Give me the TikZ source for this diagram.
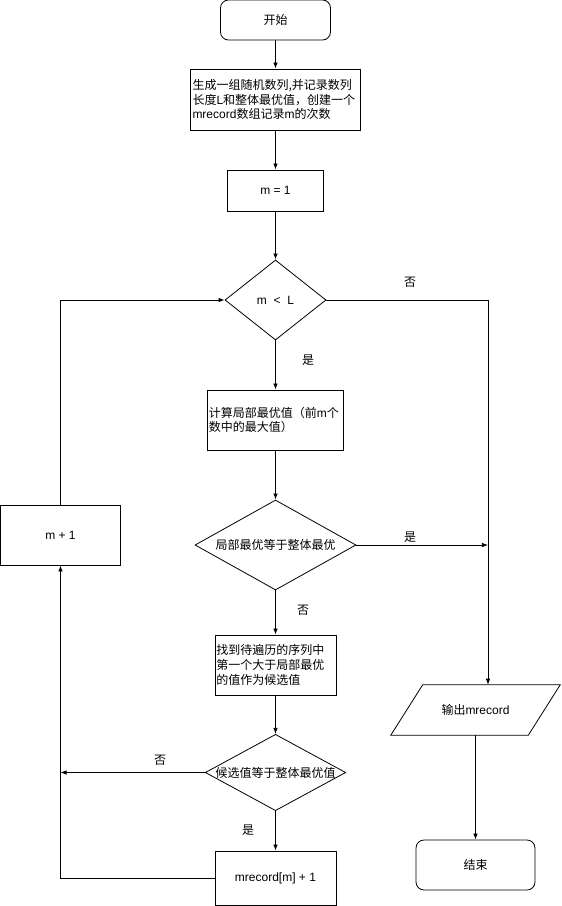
\documentclass[tikz,border=0pt]{standalone}
\usepackage{fontspec}
\setmainfont{Liberation Sans}
\newfontfamily\cjk{Noto Sans CJK SC}
\usetikzlibrary{positioning, shapes.geometric, arrows.meta}
\newcommand{\lat}[1]{{\rmfamily #1}}
\tikzset{
	every node/.style={font=\cjk\fontsize{9}{11}\selectfont, align=center},
	terminal/.style={
		rectangle,
		rounded corners=6pt,
		draw, semithick
	},
	process/.style={
		rectangle,
		draw, semithick
	},
	decision/.style={
		diamond,
		draw, semithick,
		inner sep=0pt
	},
	io/.style={
		rectangle,
		inner sep=0pt
	},
	flow/.style={semithick, -{Latex[length=1.6mm]}},
}

\begin{document}
\begin{tikzpicture}[x=0.75pt, y=-0.75pt]
		\useasboundingbox (0,0) rectangle (561,906);

		\node (start) [terminal, minimum width=82.5pt, minimum height=30pt] at (275.5,20) {开始};
		\node (gen) [process, align=left, text width=124.5pt, inner sep=1.5pt, minimum height=45.75pt] at (275.5,99.5)
			{生成一组随机数列,并记录数列\\长度\lat{L}和整体最优值，创建一个\\\lat{mrecord}数组记录\lat{m}的次数};
		\node (m1) [process, minimum width=72pt, minimum height=30.75pt] at (275.5,190.5) {\lat{m = 1}};
		\node (d1) [decision, aspect=1.26, minimum width=75.75pt, minimum height=60pt] at (275.5,300) {\lat{m \ < \ L}};
		\node (calc) [process, align=left, text width=100pt, inner sep=1pt, minimum height=45pt] at (275.5,420)
			{计算局部最优值（前\lat{m}个\\数中的最大值）};
		\node (d2) [decision, aspect=1.79, minimum width=120.75pt, minimum height=67.5pt] at (275.5,545) {局部最优等于整体最优};
		\node (find) [process, align=left, text width=88.75pt, inner sep=1pt, minimum height=45pt] at (275.5,665)
			{找到待遍历的序列中\\第一个大于局部最优\\的值作为候选值};
		\node (d3) [decision, aspect=1.84, minimum width=103.5pt, minimum height=56.25pt] at (275.5,772.5) {候选值等于整体最优值};
		\node (mrec) [process, minimum width=90.75pt, minimum height=40.5pt] at (275.5,878) {\lat{mrecord[m] + 1}};

		\node (inc) [process, minimum width=90pt, minimum height=45pt] at (60.5,535) {\lat{m + 1}};
		\node (out) [io, minimum width=126.75pt, minimum height=37.5pt] at (475.5,710) {输出\lat{mrecord}};
		\draw[semithick] ([xshift=24pt]out.north west) -- (out.north east)
			-- ([xshift=-24pt]out.south east) -- (out.south west) -- cycle;
		\node (end) [terminal, minimum width=89.25pt, minimum height=37.5pt] at (475.5,865) {结束};

		\coordinate (rc) at (488,300);

		\node (no1) at (410,282) {否};
		\node (yes1) at (308,360) {是};
		\node (yes2) at (410,537) {是};
		\node (no2) at (303,610) {否};
		\node (no3) at (160,760) {否};
		\node (yes3) at (248,830) {是};

		\draw[flow] (start) -- (gen);
		\draw[flow] (gen) -- (m1);
		\draw[flow] (m1) -- (d1);
		\draw[flow] (d1) -- (calc);
		\draw[flow] (calc) -- (d2);
		\draw[flow] (d2) -- (find);
		\draw[flow] (find) -- (d3);
		\draw[flow] (d3) -- (mrec);
		\draw[flow] (d1.east) -- (rc) -- (rc |- out.north);
		\draw[flow] (d2.east) -- (rc |- d2.east);
		\draw[flow] (d3.west) -- (inc.south |- d3.west);
		\draw[flow] (mrec.west) -| (inc.south);
		\draw[flow] (inc.north) |- (d1.west);
		\draw[flow] (out) -- (end);
	\end{tikzpicture}
\end{document}
